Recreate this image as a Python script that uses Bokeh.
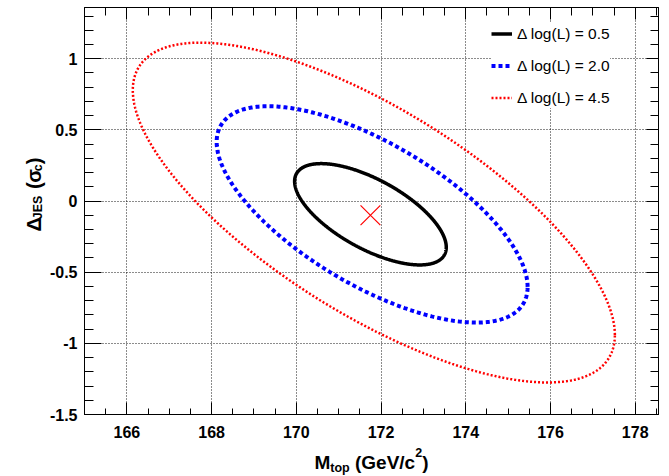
import numpy as np
from bokeh.plotting import figure
from bokeh.layouts import column, row
from bokeh.models import FixedTicker, LinearAxis, Legend, LegendItem, Range1d
from bokeh.core.properties import value
from bokeh.embed import file_html
from bokeh.resources import INLINE

# ---------------- data ----------------
level_labels = ["\u0394 log(L) = 0.5", "\u0394 log(L) = 2.0", "\u0394 log(L) = 4.5"]
# likelihood contours: centre, half extents along M_top and Delta_JES, correlation
center_x = [171.75, 171.79, 171.83]
center_y = [-0.093, -0.094, -0.081]
half_x = [1.79, 3.67, 5.69]
half_y = [0.356, 0.76, 1.194]
correlation = [-0.65, -0.67, -0.72]
# best fit point
best_x = [171.75]
best_y = [-0.10]

x_ticks = [166, 168, 170, 172, 174, 176, 178]
x_tick_labels = ["166", "168", "170", "172", "174", "176", "178"]
y_ticks = [-1.5, -1.0, -0.5, 0.0, 0.5, 1.0]
y_tick_labels = ["-1.5", "-1", "-0.5", "0", "0.5", "1"]

x_title_parts = ["M", "top", "(GeV/c", "2", ")"]
y_title_parts = ["\u0394", "JES", "(", "\u03c3", "c", ")"]

# ---------------- styles ----------------
colors = ["black", "blue", "red"]
widths = [3.5, 4, 2.5]
dashes = ["solid", "4 3", "2 2"]
FONT = "Liberation Sans"

X0, X1 = 165.0, 178.55
Y0, Y1 = -1.5, 1.36

YT_W = 46
MAIN_W, MAIN_H = 669 - YT_W, 445
p = figure(width=MAIN_W, height=MAIN_H, x_range=Range1d(X0, X1), y_range=Range1d(Y0, Y1),
           output_backend="svg", toolbar_location=None,
           min_border_left=84 - YT_W, min_border_right=11, min_border_top=7, min_border_bottom=31)
p.background_fill_color = "white"
p.border_fill_color = "white"
p.outline_line_color = "black"
p.outline_line_width = 1

x_minor = [round(v, 2) for v in np.arange(X0, X1 + 1e-9, 0.5)]
y_minor = [round(v, 2) for v in np.arange(Y0, Y1 + 1e-9, 0.1)]
xt = FixedTicker(ticks=x_ticks, minor_ticks=x_minor)
yt = FixedTicker(ticks=y_ticks, minor_ticks=y_minor)


def style_axis(ax, ticker, major_in, minor_in, labels=None):
    ax.ticker = ticker
    ax.axis_line_color = "black"
    ax.axis_line_width = 1
    ax.major_tick_in = major_in
    ax.major_tick_out = 0
    ax.minor_tick_in = minor_in
    ax.minor_tick_out = 0
    ax.major_tick_line_color = "black"
    ax.minor_tick_line_color = "black"
    ax.major_tick_line_width = 1
    ax.minor_tick_line_width = 1
    ax.axis_label = None
    if labels is None:
        ax.major_label_text_font_size = "0px"
        ax.major_label_standoff = 0
        ax.major_label_overrides = {t: "" for t in ticker.ticks}
    else:
        ax.major_label_overrides = labels
        ax.major_label_text_font = FONT
        ax.major_label_text_font_style = "bold"
        ax.major_label_text_font_size = "16px"
        ax.major_label_text_color = "black"


style_axis(p.xaxis[0], xt, 12, 6, {t: l for t, l in zip(x_ticks, x_tick_labels)})
p.xaxis[0].major_label_standoff = 11
style_axis(p.yaxis[0], yt, 17, 9, {t: l for t, l in zip(y_ticks, y_tick_labels)})
p.yaxis[0].major_label_standoff = 7

top_ax = LinearAxis()
style_axis(top_ax, xt, 12, 8)
p.add_layout(top_ax, "above")
right_ax = LinearAxis()
style_axis(right_ax, yt, 12, 8)
p.add_layout(right_ax, "right")

p.xgrid.ticker = xt
p.ygrid.ticker = yt
for g in (p.xgrid[0], p.ygrid[0]):
    g.grid_line_color = "black"
    g.grid_line_alpha = 0.9
    g.grid_line_dash = "1 2"
    g.grid_line_width = 1

# ---------------- contours ----------------
t = np.linspace(0, 2 * np.pi, 721)
renderers = []
for i in range(len(level_labels)):
    r = correlation[i]
    xs = center_x[i] + half_x[i] * np.cos(t)
    ys = center_y[i] + half_y[i] * (r * np.cos(t) + np.sqrt(1 - r * r) * np.sin(t))
    rr = p.line(xs, ys, line_color=colors[i], line_width=widths[i], line_dash=dashes[i])
    renderers.append(rr)

p.scatter(best_x, best_y, marker="x", size=28, line_color="red", line_width=1.2)

legend = Legend(items=[LegendItem(label=level_labels[i], renderers=[renderers[i]])
                       for i in range(len(level_labels))],
                location=(407, 306))
legend.label_text_font = FONT
legend.label_text_font_size = "15.5px"
legend.label_text_color = "black"
legend.glyph_width = 21
legend.glyph_height = 21
legend.label_height = 21
legend.label_standoff = 5
legend.spacing = 11
legend.padding = 6
legend.margin = 0
legend.border_line_color = None
legend.background_fill_color = "white"
legend.background_fill_alpha = 1.0
p.add_layout(legend)


# ---------------- axis titles (own small canvases, pixel coordinates) ----------------
def title_canvas(w, h):
    f = figure(width=w, height=h, x_range=Range1d(0, w), y_range=Range1d(0, h),
               x_axis_type=None, y_axis_type=None, output_backend="svg",
               toolbar_location=None, min_border=0, min_border_left=0, min_border_right=0,
               min_border_top=0, min_border_bottom=0)
    f.outline_line_color = None
    f.background_fill_color = "white"
    f.border_fill_color = "white"
    f.grid.visible = False
    return f


def put(f, txt, x, y, size, angle=0.0):
    f.text(x=[x], y=[y], text=[txt], angle=angle, text_font=value(FONT),
           text_font_style="bold", text_font_size=size, text_color="black",
           text_align="left", text_baseline="alphabetic")


# y title: Delta_JES (sigma_c), reading upwards
yf = title_canvas(YT_W, MAIN_H)
A = np.pi / 2
y_sizes = ["20px", "12.5px", "20px", "20px", "12.5px", "20px"]
y_base = [33, 37, 33, 33, 37, 33]
y_pos = [200, 213.4, 246.5, 253.5, 266.0, 273.5]
for txt, s, bx, py in zip(y_title_parts, y_sizes, y_base, y_pos):
    put(yf, txt, bx, py, s, A)

# x title: M_top (GeV/c^2)
xf = title_canvas(669, 476 - MAIN_H)
x_sizes = ["19px", "12.5px", "19px", "12.5px", "19px"]
x_pos = [314, 329.8, 354.5, 414.7, 421.7]
x_base = [14, 9, 14, 24, 14]
for txt, s, px, by in zip(x_title_parts, x_sizes, x_pos, x_base):
    put(xf, txt, px, by, s)

layout = column(row(yf, p, spacing=0), xf, spacing=0)
open("out.html", "w").write(file_html(layout, INLINE))
